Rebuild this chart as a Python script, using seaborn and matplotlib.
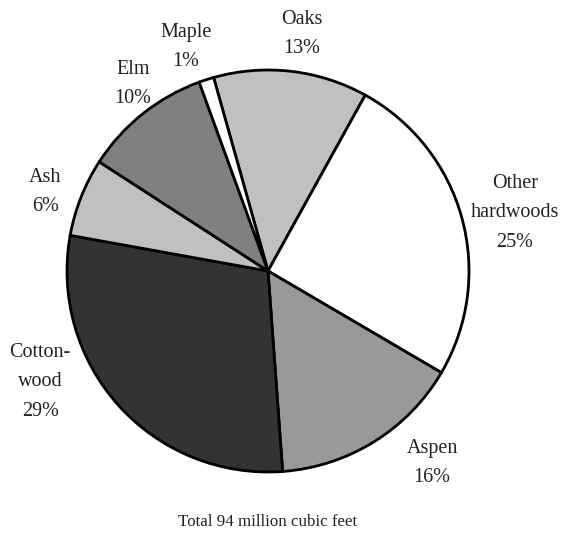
import numpy as np
import matplotlib
matplotlib.use("Agg")
import matplotlib.pyplot as plt
import seaborn as sns

# wood species, clockwise from the top
species = ["Oaks", "Other\nhardwoods", "Aspen", "Cotton-\nwood", "Ash", "Elm", "Maple"]
pct_labels = [13, 25, 16, 29, 6, 10, 1]
# wedge shares
shares = [12.4, 25.4, 15.4, 29.0, 6.3, 10.3, 1.2]
colors = ["#c0c0c0", "#ffffff", "#999999", "#333333", "#c0c0c0", "#808080", "#ffffff"]

# label anchor points, in units of pie radius
label_pos = [(0.169, 1.179), (1.229, 0.289), (0.816, -0.955), (-1.134, -0.552),
             (-1.109, 0.393), (-0.672, 0.930), (-0.408, 1.114)]

sns.set_theme(style="white")
plt.rcParams["font.family"] = ["Liberation Serif", "DejaVu Serif"]

fig = plt.figure(figsize=(5.71, 5.38), dpi=100)
ax = fig.add_axes([67 / 571, 1 - 472 / 538, 402 / 571, 402 / 538])

ax.pie(shares, colors=colors, startangle=105.7, counterclock=False,
       wedgeprops=dict(edgecolor="black", linewidth=2))
ax.set_xlim(-1, 1)
ax.set_ylim(-1, 1)

for name, pct, (x, y) in zip(species, pct_labels, label_pos):
    ax.text(x, y, f"{name}\n{pct}%", ha="center", va="center", fontsize=14.5,
            color="#222222", linespacing=1.75)

ax.text(0, -1.249, "Total 94 million cubic feet", ha="center", va="center",
        fontsize=12.2, color="#222222")

fig.savefig("out.png", dpi=100)
